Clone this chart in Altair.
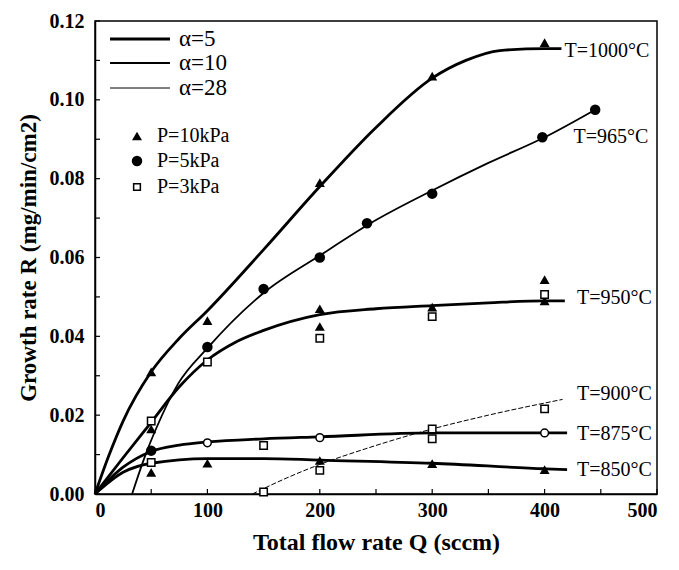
import altair as alt
import pandas as pd

# ---- curve data ----
c1000_x = [0, 12, 25, 50, 75, 100, 150, 200, 250, 300, 330, 360, 400, 415]
c1000_y = [0, 0.0095, 0.0185, 0.031, 0.0395, 0.0465, 0.062, 0.078, 0.093, 0.1055, 0.110, 0.1125, 0.113, 0.113]
c965_x = [33, 45, 55, 74, 100, 150, 200, 250, 300, 350, 400, 445]
c965_y = [0, 0.010, 0.017, 0.028, 0.037, 0.051, 0.0605, 0.0695, 0.077, 0.084, 0.0905, 0.0975]
c950_x = [0, 25, 50, 75, 100, 125, 150, 200, 250, 300, 350, 400, 418]
c950_y = [0, 0.0092, 0.0182, 0.0272, 0.034, 0.0385, 0.0415, 0.0455, 0.047, 0.0478, 0.0485, 0.049, 0.049]
c900_x = [140, 170, 200, 241, 300, 350, 416]
c900_y = [0, 0.004, 0.0075, 0.0115, 0.0165, 0.020, 0.024]
c875_x = [0, 25, 50, 75, 100, 150, 200, 300, 400, 420]
c875_y = [0, 0.0068, 0.0108, 0.0124, 0.0132, 0.014, 0.0145, 0.0155, 0.0155, 0.0155]
c850_x = [0, 25, 50, 100, 150, 200, 300, 400, 420]
c850_y = [0, 0.0055, 0.0078, 0.009, 0.009, 0.0086, 0.0078, 0.0064, 0.0062]

# ---- measured points ----
tri_x = [50, 100, 200, 300, 400, 50, 200, 200, 300, 400, 400, 50, 100, 200, 300, 400]
tri_y = [0.031, 0.044, 0.079, 0.106, 0.1145, 0.0165, 0.047, 0.0425, 0.0474, 0.0544, 0.049,
         0.0055, 0.0078, 0.0085, 0.0077, 0.0062]
circ_x = [100, 150, 200, 242, 300, 398, 445, 50]
circ_y = [0.0373, 0.052, 0.060, 0.0687, 0.0762, 0.0905, 0.0975, 0.011]
sq_x = [50, 100, 200, 300, 400, 50, 150, 150, 200, 300, 300, 400]
sq_y = [0.0185, 0.0335, 0.0395, 0.045, 0.0506, 0.008, 0.0123, 0.0005, 0.006, 0.0165, 0.014, 0.0216]
ocirc_x = [100, 200, 400]
ocirc_y = [0.013, 0.0143, 0.0155]

# ---- curve labels ----
lab_text = ["T=1000°C", "T=965°C", "T=950°C", "T=900°C", "T=875°C", "T=850°C"]
lab_x = [416, 424, 427, 427, 427, 427]
lab_y = [0.1123, 0.0905, 0.0498, 0.0253, 0.0153, 0.006]

# ---- tick positions ----
xtick_vals = [0, 50, 100, 150, 200, 250, 300, 350, 400, 450, 500]
ytick_vals = [0, 0.01, 0.02, 0.03, 0.04, 0.05, 0.06, 0.07, 0.08, 0.09, 0.10, 0.11, 0.12]

# ---- legend ----
leg_line_text = ["α=5", "α=10", "α=28"]
leg_line_w = [2.8, 1.8, 1.0]
leg_line_y = [39, 63, 88]
leg_mark_text = ["P=10kPa", "P=5kPa", "P=3kPa"]
leg_mark_y = [136, 161, 187]

W, H = 562, 473
SERIF = "Liberation Serif"

rows = []
for name, a, xs, ys in [("1000", 5, c1000_x, c1000_y), ("965", 10, c965_x, c965_y),
                        ("950", 5, c950_x, c950_y), ("900", 28, c900_x, c900_y),
                        ("875", 5, c875_x, c875_y), ("850", 5, c850_x, c850_y)]:
    for x, y in zip(xs, ys):
        rows.append({"curve": name, "alpha": a, "Q": x, "R": y})
lines_df = pd.DataFrame(rows)

xsc = alt.Scale(domain=[0, 500], nice=False)
ysc = alt.Scale(domain=[0, 0.12], nice=False)

base = alt.Chart(lines_df)

def line_layer(a, w, dash=None):
    kw = dict(strokeWidth=w, color="black", interpolate="monotone")
    if dash:
        kw["strokeDash"] = dash
    return base.transform_filter(alt.datum.alpha == a).mark_line(**kw).encode(
        x=alt.X("Q:Q", scale=xsc,
                axis=alt.Axis(values=[0, 100, 200, 300, 400, 500], format="d", ticks=False,
                              labelFont=SERIF, labelFontWeight="bold", labelFontSize=20,
                              labelPadding=6, labelColor="black", domainColor="black",
                              domainWidth=1.5, grid=False,
                              title="Total flow rate Q (sccm)", titleFont=SERIF,
                              titleFontWeight="bold", titleFontSize=24, titlePadding=10,
                              titleColor="black")),
        y=alt.Y("R:Q", scale=ysc,
                axis=alt.Axis(values=[0, 0.02, 0.04, 0.06, 0.08, 0.10, 0.12], format=".2f",
                              ticks=False, labelFont=SERIF, labelFontWeight="bold",
                              labelFontSize=20, labelPadding=11, labelColor="black",
                              domainColor="black", domainWidth=1.5, grid=False,
                              title="Growth rate R (mg/min/cm2)", titleFont=SERIF,
                              titleFontWeight="bold", titleFontSize=23, titlePadding=9,
                              titleColor="black")),
        detail="curve:N",
    )

l5 = line_layer(5, 2.8)
l10 = line_layer(10, 1.8)
l28 = line_layer(28, 1.0, [5, 2])

def pts(xs, ys, shape, filled, size, sw=1.2):
    df = pd.DataFrame({"Q": xs, "R": ys})
    return alt.Chart(df).mark_point(shape=shape, filled=filled, size=size, color="black",
                                     fill="black" if filled else "white",
                                     strokeWidth=sw, opacity=1).encode(
        x=alt.X("Q:Q", scale=xsc), y=alt.Y("R:Q", scale=ysc))

p_tri = pts(tri_x, tri_y, "triangle-up", True, 100)
p_circ = pts(circ_x, circ_y, "circle", True, 110)
p_sq = pts(sq_x, sq_y, "square", False, 55, 1.5)
p_oc = pts(ocirc_x, ocirc_y, "circle", False, 60, 1.5)

labels = alt.Chart(pd.DataFrame({"Q": lab_x, "R": lab_y, "t": lab_text})).mark_text(
    align="left", baseline="middle", font=SERIF, fontSize=20, color="black", dx=2
).encode(x=alt.X("Q:Q", scale=xsc), y=alt.Y("R:Q", scale=ysc), text="t:N")

xt = alt.Chart(pd.DataFrame({"Q": xtick_vals})).mark_rule(color="black", strokeWidth=1.2).encode(
    x=alt.X("Q:Q", scale=xsc), y=alt.value(H), y2=alt.value(H - 5))
yt = alt.Chart(pd.DataFrame({"R": ytick_vals})).mark_rule(color="black", strokeWidth=1.2).encode(
    y=alt.Y("R:Q", scale=ysc), x=alt.value(0), x2=alt.value(5))

# legend (pixel positions inside the plot area)
OX, OY = 95, 21
leg_l = pd.DataFrame({"y": [v - OY for v in leg_line_y], "w": leg_line_w, "t": leg_line_text,
                      "x0": [110 - OX] * 3, "x1": [170 - OX] * 3, "xt": [179 - OX] * 3})
leg_rules = alt.Chart(leg_l).mark_rule(color="black").encode(
    x=alt.X("x0:Q", scale=None), x2="x1:Q", y=alt.Y("y:Q", scale=None),
    strokeWidth=alt.StrokeWidth("w:Q", scale=None, legend=None))
leg_ltext = alt.Chart(leg_l).mark_text(align="left", baseline="middle", font=SERIF,
                                       fontSize=23, color="black").encode(
    x=alt.X("xt:Q", scale=None), y=alt.Y("y:Q", scale=None), text="t:N")

leg_m = pd.DataFrame({"y": [v - OY for v in leg_mark_y], "t": leg_mark_text,
                      "xm": [137 - OX] * 3, "xt": [157 - OX] * 3})
lm_tri = alt.Chart(leg_m.iloc[[0]]).mark_point(shape="triangle-up", filled=True, size=100,
                                               color="black", opacity=1).encode(
    x=alt.X("xm:Q", scale=None), y=alt.Y("y:Q", scale=None))
lm_circ = alt.Chart(leg_m.iloc[[1]]).mark_point(shape="circle", filled=True, size=110,
                                                color="black", opacity=1).encode(
    x=alt.X("xm:Q", scale=None), y=alt.Y("y:Q", scale=None))
lm_sq = alt.Chart(leg_m.iloc[[2]]).mark_point(shape="square", filled=False, size=45,
                                              color="black", strokeWidth=1.5, opacity=1).encode(
    x=alt.X("xm:Q", scale=None), y=alt.Y("y:Q", scale=None))
leg_mtext = alt.Chart(leg_m).mark_text(align="left", baseline="middle", font=SERIF,
                                       fontSize=20, color="black").encode(
    x=alt.X("xt:Q", scale=None), y=alt.Y("y:Q", scale=None), text="t:N")

chart = alt.layer(
    l5, l10, l28, xt, yt, p_tri, p_circ, p_sq, p_oc, labels,
    leg_rules, leg_ltext, lm_tri, lm_circ, lm_sq, leg_mtext
).properties(
    width=W, height=H,
    autosize=alt.AutoSizeParams(type="none"),
    padding={"left": 87, "top": 13, "right": 14, "bottom": 75},
    background="white",
).configure_view(stroke="black", strokeWidth=1.5)

chart.save("out.html", embed_options={"renderer": "svg", "actions": False})
